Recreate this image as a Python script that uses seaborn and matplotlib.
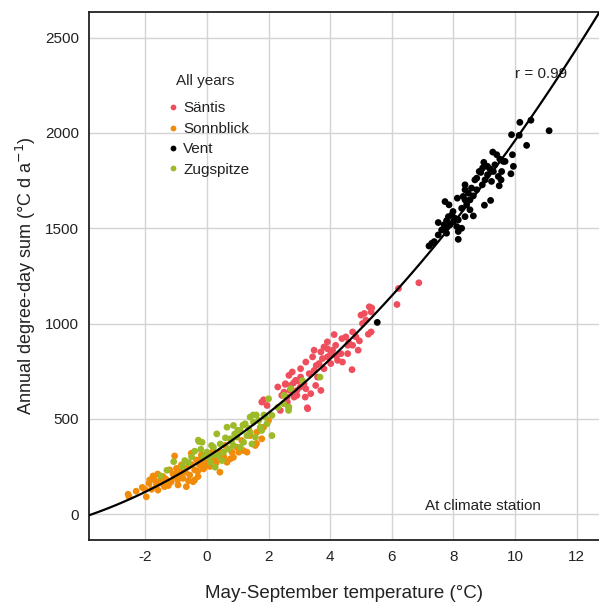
import numpy as np
import pandas as pd
import matplotlib
matplotlib.use("Agg")
import matplotlib.pyplot as plt
import seaborn as sns

# ---------------- data ----------------
stations = ["Säntis", "Sonnblick", "Vent", "Zugspitze"]
colors = ["#EF4F5C", "#F08C0A", "#000000", "#9DBA28"]

santis_x = [6.88, 6.22, 6.17, 5.35, 5.11, 5.00, 5.33, 5.05, 5.33, 5.24, 4.73, 4.13, 4.38, 4.51,
            4.95, 4.73, 4.91, 3.80, 3.91, 4.18, 3.48, 4.02, 4.35, 4.57, 3.75, 4.24, 4.40, 3.21,
            3.64, 4.02, 4.71, 3.48, 3.80, 3.32, 3.04, 3.59, 2.66, 2.88, 3.15, 3.70, 3.37, 2.72,
            2.55, 2.92, 3.26, 2.50, 2.83, 2.61, 3.91, 4.08, 4.57, 3.70, 3.43, 3.91, 3.04, 2.77,
            3.53, 3.21, 4.84, 5.16, 5.27, 2.30, 2.54, 2.81, 3.03, 2.70, 2.92, 3.19, 3.27, 1.78,
            1.95, 1.84, 2.38, 2.60, 2.43, 2.65, 4.60, 4.20, 3.55, 2.95]
santis_y = [1214, 1184, 1100, 1082, 1053, 1044, 1061, 1000, 956, 944, 956, 942, 921, 930,
            909, 886, 860, 877, 868, 886, 860, 842, 842, 842, 816, 807, 798, 798,
            790, 790, 758, 754, 763, 737, 719, 719, 728, 702, 684, 649, 632, 675,
            684, 649, 558, 640, 614, 588, 904, 860, 886, 851, 825, 825, 763, 746,
            675, 658, 930, 1018, 1088, 667, 681, 688, 667, 649, 623, 614, 553, 588,
            570, 600, 544, 614, 623, 561, 900, 830, 780, 700]

sonnblick_x = [-2.53, -2.56, -2.02, -1.97, -1.86, -1.88, -1.64, -1.48, -1.53, -1.32, -1.38, -1.16,
               -1.05, -0.89, -0.94, -0.78, -0.61, -0.56, -0.40, -0.34, -0.45, -0.24, -0.13, -0.29,
               -0.02, -0.67, -0.83, -1.21, -1.43, -1.70, -1.59, -0.99, -0.40, -0.51, -0.18, -1.05,
               -2.30, -2.10, -1.80, -1.75, -1.60, -1.45, -1.25, -1.10, -0.95, -0.85, -0.70, -0.60,
               -0.50, -0.30, -0.20, -0.10, 0.10, 0.20, 0.30, 0.55, -0.06, 0.16, 0.43, 0.59,
               0.81, 0.97, 1.13, 1.40, 1.62, 1.84, 2.00, 1.30, 0.86, 0.65, 0.42, -0.11,
               1.03, 1.57, 1.19, 1.78, 0.27, 0.76, 1.61, -1.00, -0.75, -1.35, 0.05, 0.35]
sonnblick_y = [91, 104, 130, 91, 179, 161, 153, 193, 170, 179, 144, 170,
               197, 223, 153, 188, 249, 205, 232, 284, 170, 258, 240, 197,
               284, 144, 258, 232, 197, 179, 126, 240, 179, 319, 311, 305,
               120, 140, 130, 200, 210, 160, 150, 210, 180, 200, 220, 175,
               260, 225, 290, 265, 250, 330, 270, 300, 254, 298, 325, 360,
               325, 351, 386, 412, 430, 456, 491, 325, 298, 272, 220, 237,
               325, 360, 333, 395, 290, 290, 371, 215, 235, 185, 275, 305]

vent_x = [10.16, 10.52, 11.11, 9.89, 10.14, 10.38, 9.28, 9.92, 9.51, 9.62, 8.99, 9.95, 8.95, 9.35,
          9.19, 9.57, 9.87, 8.89, 9.11, 9.46, 8.76, 9.03, 9.55, 9.24, 8.94, 9.49, 8.38, 8.59,
          8.38, 8.49, 8.65, 8.13, 8.38, 9.21, 9.01, 7.73, 7.86, 8.43, 8.27, 8.54, 7.95, 7.84,
          8.05, 8.65, 8.38, 7.78, 8.00, 8.16, 7.51, 7.89, 7.73, 7.62, 8.27, 8.16, 7.78, 7.51,
          8.16, 7.30, 7.21, 7.38, 8.84, 9.11, 8.70, 8.32, 7.99, 7.70, 8.11, 8.54, 9.30, 9.68,
          9.41, 8.76, 5.53]
vent_y = [2056, 2067, 2012, 1991, 1988, 1935, 1900, 1886, 1863, 1851, 1846, 1825, 1816, 1833,
          1811, 1798, 1786, 1793, 1781, 1772, 1763, 1754, 1754, 1746, 1728, 1723, 1728, 1711,
          1702, 1684, 1670, 1658, 1649, 1646, 1621, 1640, 1623, 1623, 1605, 1597, 1570, 1561,
          1553, 1565, 1561, 1540, 1535, 1544, 1530, 1518, 1500, 1491, 1500, 1483, 1474, 1465,
          1442, 1421, 1407, 1430, 1798, 1825, 1754, 1667, 1588, 1518, 1509, 1649, 1798, 1851,
          1886, 1702, 1006]

zugspitze_x = [-1.08, -0.72, -0.26, -0.16, 0.32, 0.65, 0.86, 1.08, 1.24, 1.40, 1.51, 1.68,
               1.30, 0.97, 0.76, 0.43, 0.21, 0.00, -0.11, 0.54, 0.86, 1.19, 1.57, 1.78,
               1.95, 0.11, 0.38, 0.70, 1.08, 1.46, 1.73, 0.49, 0.27, 2.00, 2.49, 2.65,
               2.11, 1.89, 2.11, 3.67, 2.72, 2.50, 2.66, -0.80, -0.50, -0.40, -0.20, 0.05,
               0.15, 0.60, 1.00, 1.35, 1.85, 2.30, 3.10, -1.30, -1.50, 0.90, 1.60, -0.28,
               1.17, 1.50, -0.60, 0.25, 0.80, 1.40]
zugspitze_y = [275, 281, 381, 377, 421, 456, 465, 439, 474, 509, 482, 491,
               412, 404, 395, 368, 351, 325, 298, 325, 360, 377, 404, 439,
               474, 272, 307, 342, 351, 368, 456, 281, 246, 605, 579, 544,
               518, 509, 412, 719, 658, 623, 561, 250, 300, 330, 340, 300,
               360, 400, 440, 450, 520, 560, 700, 230, 200, 420, 520, 388,
               467, 520, 270, 310, 380, 430]

x_ticks = [-2, 0, 2, 4, 6, 8, 10, 12]
x_tick_labels = ["-2", "0", "2", "4", "6", "8", "10", "12"]
y_ticks = [0, 500, 1000, 1500, 2000, 2500]
y_tick_labels = ["0", "500", "1000", "1500", "2000", "2500"]

# ---------------- frame ----------------
df = pd.concat([
    pd.DataFrame({"t": santis_x, "dds": santis_y, "station": "Säntis"}),
    pd.DataFrame({"t": sonnblick_x, "dds": sonnblick_y, "station": "Sonnblick"}),
    pd.DataFrame({"t": vent_x, "dds": vent_y, "station": "Vent"}),
    pd.DataFrame({"t": zugspitze_x, "dds": zugspitze_y, "station": "Zugspitze"}),
], ignore_index=True)

sns.set_theme(style="white")
plt.rcParams["font.family"] = ["Liberation Sans", "DejaVu Sans"]

fig = plt.figure(figsize=(5.99, 6.05), dpi=100)
ax = fig.add_axes([89 / 599, 1 - 540 / 605, 1 - 89 / 599, (540 - 12) / 605])
ax.set_xlim(-3.83, 12.73)
ax.set_ylim(-136, 2635)

ax.set_xticks(x_ticks)
ax.set_xticklabels(x_tick_labels)
ax.set_yticks(y_ticks)
ax.set_yticklabels(y_tick_labels)
ax.grid(True, color="#D4D4D4", linewidth=1.0)
ax.set_axisbelow(True)

palette = dict(zip(stations, colors))
sns.scatterplot(data=df, x="t", y="dds", hue="station", hue_order=stations,
                palette=palette, s=24, linewidth=0, ax=ax, zorder=3)

sns.regplot(data=df, x="t", y="dds", order=2, scatter=False, ci=None,
            truncate=False, ax=ax, line_kws={"color": "black", "linewidth": 1.6, "zorder": 4})

ax.set_xlim(-3.83, 12.73)
ax.set_ylim(-136, 2635)

for side in ["left", "bottom", "top"]:
    ax.spines[side].set_color("#222222")
    ax.spines[side].set_linewidth(1.3)
ax.spines["right"].set_visible(False)

ax.tick_params(axis="both", length=0, labelsize=11, colors="#222222", pad=7)
ax.set_xlabel("May-September temperature (°C)", fontsize=13.5, color="#222222", labelpad=15)
ax.set_ylabel("Annual degree-day sum (°C d a$^{-1}$)", fontsize=13, color="#222222", labelpad=12)
ax.yaxis.set_label_coords(-0.1, 0.5)

ax.text(10.0, 2310, "r = 0.99", fontsize=11, color="#222222", ha="left", va="center")
ax.text(8.95, 45, "At climate station", fontsize=11, color="#222222", ha="center", va="center")

leg = ax.legend(title="All years", frameon=False, loc="upper left",
                bbox_to_anchor=(0.131, 0.895), fontsize=11, title_fontsize=11,
                handletextpad=0.0, handlelength=1.4, labelspacing=0.42, markerscale=0.85,
                borderaxespad=0)
leg._legend_box.align = "center"
leg._legend_box.sep = 10
for t in leg.get_texts():
    t.set_color("#222222")

fig.savefig("out.png", dpi=100)
